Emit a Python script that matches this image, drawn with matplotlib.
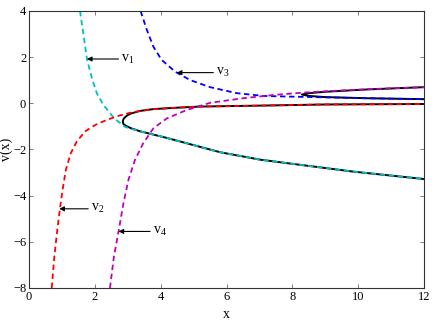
import matplotlib
matplotlib.use('Agg')
import matplotlib.pyplot as plt

plt.rcParams['font.family'] = ['Liberation Serif', 'DejaVu Serif']
plt.rcParams['mathtext.fontset'] = 'custom'
plt.rcParams['mathtext.rm'] = 'Liberation Serif'
plt.rcParams['mathtext.it'] = 'Liberation Serif'

# dashed approximations
v1_x = [1.55, 1.65, 1.76, 1.91, 2.06, 2.26, 2.56, 2.71, 2.92, 3.10, 3.37, 4.19, 4.79, 5.81, 7.02, 7.83, 9.86, 12.0]
v1_y = [4.0, 3.03, 1.92, 1.09, 0.44, -0.07, -0.60, -0.79, -1.02, -1.10, -1.21, -1.50, -1.73, -2.12, -2.44, -2.59, -2.96, -3.28]

v2_x = [0.69, 0.77, 0.86, 0.94, 1.02, 1.12, 1.27, 1.45, 1.70, 2.01, 2.36, 2.56, 2.77, 3.07, 3.37, 3.78, 4.49, 5.2, 7.0, 9.0, 12.0]
v2_y = [-8.0, -6.64, -5.48, -4.57, -3.75, -2.88, -2.16, -1.66, -1.22, -0.94, -0.72, -0.62, -0.52, -0.41, -0.33, -0.25, -0.19, -0.14, -0.10, -0.05, -0.03]

v3_x = [3.39, 3.58, 3.78, 4.03, 4.44, 4.89, 5.50, 6.31, 7.12, 7.93, 8.6, 10.26, 12.0]
v3_y = [4.0, 3.18, 2.45, 1.88, 1.37, 1.01, 0.70, 0.44, 0.32, 0.29, 0.27, 0.22, 0.18]

v4_x = [2.46, 2.58, 2.72, 2.87, 3.02, 3.22, 3.47, 3.78, 4.19, 4.79, 5.5, 6.5, 7.5, 8.3, 9.0, 10.26, 12.0]
v4_y = [-8.0, -6.64, -5.55, -4.33, -3.32, -2.45, -1.73, -1.08, -0.65, -0.29, 0.02, 0.22, 0.37, 0.46, 0.52, 0.61, 0.70]

# exact roots (solid black), each branch pair runs through its turning point
c1_x = [12.0, 9.86, 7.83, 7.02, 5.81, 4.79, 4.19, 3.37, 3.10, 2.95, 2.87, 2.85, 2.87, 2.92, 3.00, 3.10, 3.37, 3.78, 4.49, 5.2, 7.0, 9.0, 12.0]
c1_y = [-3.28, -2.96, -2.59, -2.44, -2.12, -1.73, -1.50, -1.21, -1.08, -0.98, -0.90, -0.79, -0.68, -0.60, -0.51, -0.44, -0.33, -0.25, -0.19, -0.14, -0.10, -0.05, -0.03]

c2_x = [12.0, 10.26, 9.0, 8.5, 8.29, 8.5, 9.0, 10.26, 12.0]
c2_y = [0.18, 0.22, 0.27, 0.32, 0.38, 0.44, 0.50, 0.60, 0.70]

# labels: (text, arrow tip, text position)
labels = ['v$_1$', 'v$_2$', 'v$_3$', 'v$_4$']
tips = [(1.76, 1.92), (0.92, -4.57), (4.49, 1.33), (2.72, -5.55)]
texts = [(2.72, 1.92), (1.80, -4.57), (5.60, 1.33), (3.68, -5.55)]

fig = plt.figure(figsize=(4.36, 3.27), dpi=100)
ax = fig.add_axes([0.0665, 0.1193, 0.906, 0.8471])

ax.plot(c1_x, c1_y, color='k', lw=1.4)
ax.plot(c2_x, c2_y, color='k', lw=1.4)

dash = (0, (3, 2))
ax.plot(v1_x, v1_y, color='c', ls=dash, lw=1.3)
ax.plot(v2_x, v2_y, color='r', ls=dash, lw=1.3)
ax.plot(v3_x, v3_y, color='b', ls=dash, lw=1.3)
ax.plot(v4_x, v4_y, color='m', ls=dash, lw=1.3)

for lab, tip, txt in zip(labels, tips, texts):
    ax.annotate('', xy=tip, xytext=txt,
                arrowprops=dict(arrowstyle='-|>', color='k', lw=0.8, mutation_scale=7,
                                shrinkA=0, shrinkB=0))
    ax.text(txt[0] + 0.08, txt[1], lab, fontsize=10, va='center', ha='left')

ax.set_xlim(0, 12)
ax.set_ylim(-8, 4)
ax.set_xticks(range(0, 13, 2))
ax.set_yticks(range(-8, 5, 2))
ax.tick_params(direction='in', top=True, right=True, labelsize=9, length=3, width=0.6, color='0.4', pad=2)
for s in ax.spines.values():
    s.set_linewidth(0.8)
    s.set_color('0.2')
ax.set_xlabel('x', fontsize=10, labelpad=4)
ax.set_ylabel('v(x)', fontsize=10, labelpad=0)

plt.savefig('out.png', dpi=100)
